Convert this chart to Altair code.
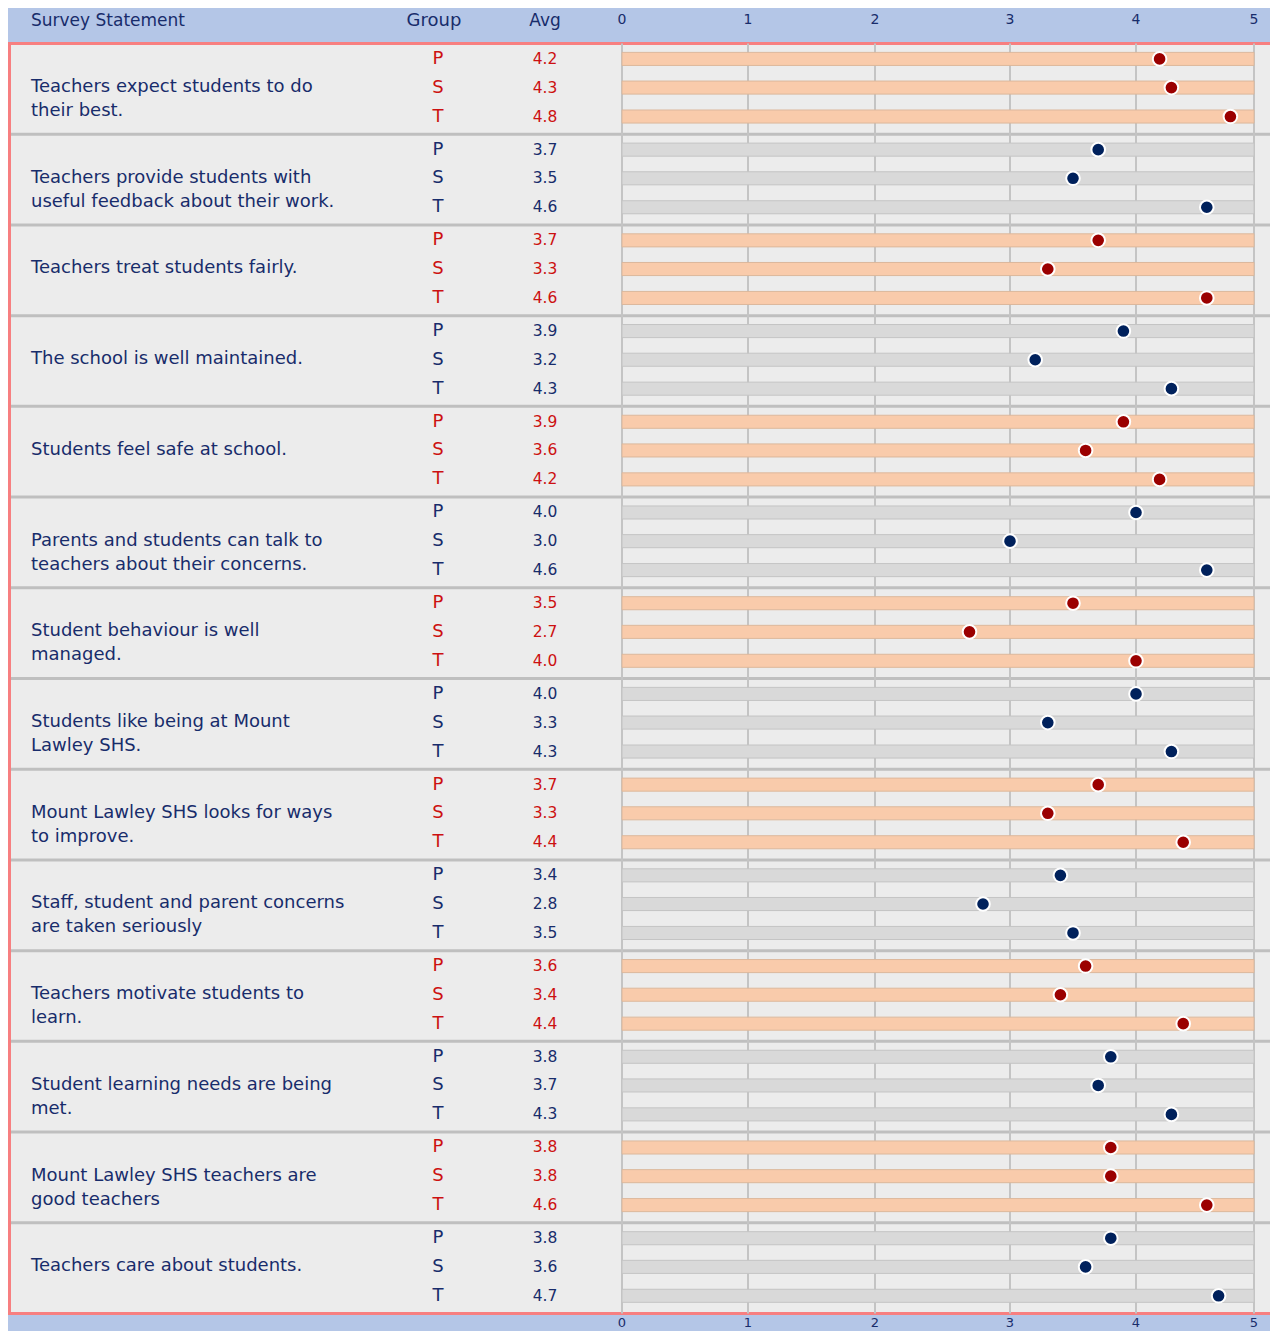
import altair as alt
import pandas as pd

statements = [
    "Teachers expect students to do\ntheir best.",
    "Teachers provide students with\nuseful feedback about their work.",
    "Teachers treat students fairly.",
    "The school is well maintained.",
    "Students feel safe at school.",
    "Parents and students can talk to\nteachers about their concerns.",
    "Student behaviour is well\nmanaged.",
    "Students like being at Mount\nLawley SHS.",
    "Mount Lawley SHS looks for ways\nto improve.",
    "Staff, student and parent concerns\nare taken seriously",
    "Teachers motivate students to\nlearn.",
    "Student learning needs are being\nmet.",
    "Mount Lawley SHS teachers are\ngood teachers",
    "Teachers care about students.",
]
groups = ["P", "S", "T"]
avg_P = [4.2, 3.7, 3.7, 3.9, 3.9, 4.0, 3.5, 4.0, 3.7, 3.4, 3.6, 3.8, 3.8, 3.8]
avg_S = [4.3, 3.5, 3.3, 3.2, 3.6, 3.0, 2.7, 3.3, 3.3, 2.8, 3.4, 3.7, 3.8, 3.6]
avg_T = [4.8, 4.6, 4.6, 4.3, 4.2, 4.6, 4.0, 4.3, 4.4, 3.5, 4.4, 4.3, 4.6, 4.7]
ticks = [0, 1, 2, 3, 4, 5]
headers = ["Survey Statement", "Group", "Avg"]

# ---- styling ----
BG = "#b4c6e7"
PINK = "#f77f80"
BOX = "#ececec"
SEP = "#bfbfbf"
GRID = "#c4c4c4"
NAVY = "#182c6b"
styles = {
    0: dict(text="#cc1111", dot="#9b0000", bar="#f9cbab", barstroke="#dcb89c"),
    1: dict(text=NAVY, dot="#00215c", bar="#d9d9d9", barstroke="#c4c4c4"),
}
row_off = [0.170, 0.486, 0.805]
FONT = "DejaVu Sans"

W, H = 1262, 1323
n = len(statements)
Y_TOP, Y_BOT = 35.5, 1305.5
xscale = alt.Scale(domain=ticks, range=[614, 740, 867, 1002, 1128, 1246])
yscale = alt.Scale(domain=[0, n], range=[Y_TOP, Y_BOT])

vals = {"P": avg_P, "S": avg_S, "T": avg_T}
rows = []
for i in range(n):
    st = styles[i % 2]
    for gi, g in enumerate(groups):
        rows.append(dict(block=i, group=g, avg=vals[g][i], pos=i + row_off[gi],
                         label=f"{vals[g][i]:.1f}", lo=ticks[0], hi=ticks[-1],
                         tcol=st["text"], dcol=st["dot"], bcol=st["bar"], bscol=st["barstroke"]))
rows_df = pd.DataFrame(rows)
stmt_df = pd.DataFrame(dict(block=list(range(n)), text=statements, pos=[i + 0.48 for i in range(n)]))
sep_df = pd.DataFrame(dict(y=list(range(1, n))))
tick_df = pd.DataFrame(dict(t=ticks, lab=[str(t) for t in ticks]))
hdr_df = pd.DataFrame(dict(h=headers))

base = alt.Chart(rows_df)

frame = alt.Chart(pd.DataFrame(dict(a=[0], b=[n]))).mark_rect(
    fill=BOX, stroke=PINK, strokeWidth=3
).encode(x=alt.value(1.5), x2=alt.value(W + 20),
         y=alt.Y("a:Q", scale=yscale, axis=None), y2="b:Q")

seps = alt.Chart(sep_df).mark_rule(color=SEP, strokeWidth=3).encode(
    x=alt.value(3), x2=alt.value(W + 20), y=alt.Y("y:Q", scale=yscale, axis=None))

grid = alt.Chart(tick_df).mark_rule(color=GRID, strokeWidth=2).encode(
    x=alt.X("t:Q", scale=xscale, axis=None),
    y=alt.value(Y_TOP), y2=alt.value(Y_BOT))

bars = base.mark_rect(strokeWidth=1).transform_calculate(
    y0="datum.pos - 0.072", y1="datum.pos + 0.072"
).encode(
    x=alt.X("lo:Q", scale=xscale, axis=None), x2="hi:Q",
    y=alt.Y("y0:Q", scale=yscale, axis=None), y2="y1:Q",
    fill=alt.Fill("bcol:N", scale=None), stroke=alt.Stroke("bscol:N", scale=None))

dots = base.mark_point(filled=True, shape="circle", size=185, stroke="white",
                       strokeWidth=2, opacity=1).encode(
    x=alt.X("avg:Q", scale=xscale, axis=None),
    y=alt.Y("pos:Q", scale=yscale, axis=None),
    fill=alt.Fill("dcol:N", scale=None))

grp_text = base.mark_text(font=FONT, fontSize=18, align="center", baseline="middle").encode(
    x=alt.value(430), y=alt.Y("pos:Q", scale=yscale, axis=None),
    text="group:N", color=alt.Color("tcol:N", scale=None))

avg_text = base.mark_text(font=FONT, fontSize=15.5, align="center", baseline="middle").encode(
    x=alt.value(537), y=alt.Y("pos:Q", scale=yscale, axis=None),
    text="label:N", color=alt.Color("tcol:N", scale=None))

stmt_text = alt.Chart(stmt_df).mark_text(
    font=FONT, fontSize=18, align="left", baseline="middle", lineBreak="\n",
    lineHeight=24, color=NAVY
).encode(x=alt.value(23), y=alt.Y("pos:Q", scale=yscale, axis=None), text="text:N")

hdr_pos = {"Survey Statement": (23, "left", 17), "Group": (426, "center", 18), "Avg": (537, "center", 17)}
hdr_layers = []
for h in headers:
    xp, al, fs = hdr_pos[h]
    hdr_layers.append(
        alt.Chart(hdr_df).transform_filter(alt.datum.h == h).mark_text(
            font=FONT, fontSize=fs, align=al, baseline="middle", color=NAVY
        ).encode(x=alt.value(xp), y=alt.value(13), text="h:N"))

top_ticks = alt.Chart(tick_df).mark_text(font=FONT, fontSize=14, align="center",
                                          baseline="middle", color=NAVY).encode(
    x=alt.X("t:Q", scale=xscale, axis=None), y=alt.value(12), text="lab:N")
bot_ticks = alt.Chart(tick_df).mark_text(font=FONT, fontSize=13, align="center",
                                          baseline="middle", color=NAVY).encode(
    x=alt.X("t:Q", scale=xscale, axis=None), y=alt.value(1315), text="lab:N")

chart = alt.layer(
    frame, seps, grid, bars, dots, grp_text, avg_text, stmt_text, *hdr_layers, top_ticks, bot_ticks
).properties(
    width=W, height=H, background=BG, padding=0,
    autosize=alt.AutoSizeParams(type="none")
).configure_view(stroke=None)

chart.save("out.html", embed_options={"renderer": "svg", "actions": False})
